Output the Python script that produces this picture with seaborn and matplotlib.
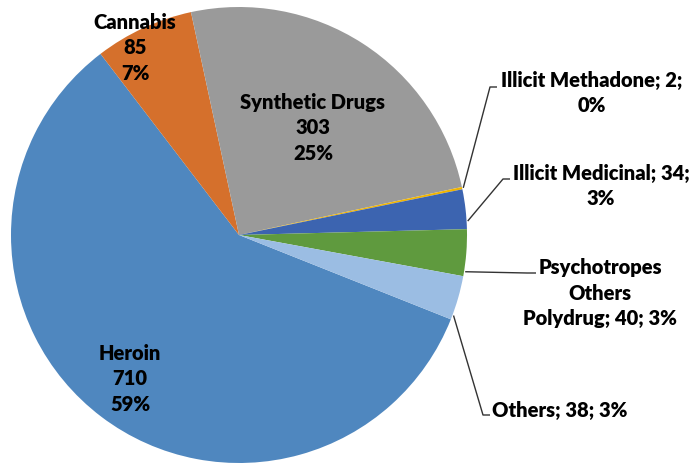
import numpy as np
import matplotlib
matplotlib.use("Agg")
import matplotlib.pyplot as plt
import seaborn as sns

# Drug categories and counts
categories = ["Heroin", "Cannabis", "Synthetic Drugs", "Illicit Methadone",
              "Illicit Medicinal", "Psychotropes\nOthers\nPolydrug", "Others"]
counts = [710, 85, 303, 2, 34, 40, 38]
colors = ["#4f87bf", "#d5702c", "#9a9a9a", "#f0b400",
          "#3c64b0", "#5f9a3e", "#9bbde3"]

sns.set_theme(style="white")
plt.rcParams["font.family"] = ["Lato", "DejaVu Sans"]

W, H, DPI = 692, 464, 100
fig = plt.figure(figsize=(W / DPI, H / DPI), dpi=DPI)
ax = fig.add_axes([0, 0, 1, 1])

# pie centre and radius in pixels
cx, cy, R = 239, 236, 228

total = sum(counts)
start = -21.7
wedges, _ = ax.pie(counts, colors=colors, startangle=start, counterclock=False,
                   radius=1.0, center=(0, 0), frame=True,
                   wedgeprops=dict(linewidth=0))
ax.set_xlim(-cx / R, (W - cx) / R)
ax.set_ylim(-(H - cy) / R, cy / R)
ax.set_aspect("auto")
ax.axis("off")


def px(x, y):
    return (x - cx) / R, (cy - y) / R


def pct(v):
    return f"{round(100 * v / total)}%"


fs = 14.5
txt = dict(fontsize=fs, fontweight="heavy", color="black",
           ha="center", va="center", linespacing=1.4)

# labels inside the large slices
inside = {0: (130, 379), 1: (135, 48), 2: (313, 128)}
for i, (x, y) in inside.items():
    ax.text(*px(x, y), f"{categories[i]}\n{counts[i]}\n{pct(counts[i])}", **txt)

# outside labels with leader lines
outside = {
    3: dict(text=f"{categories[3]}; {counts[3]};\n{pct(counts[3])}",
            pos=(592, 93), elbow=(490, 88), end=(497, 88), frac=0.5),
    4: dict(text=f"{categories[4]}; {counts[4]};\n{pct(counts[4])}",
            pos=(601, 186), elbow=(503, 180), end=(510, 180), frac=0.2),
    5: dict(text=f"{categories[5]}; {counts[5]}; {pct(counts[5])}",
            pos=(600, 293), elbow=(527, 274), end=(536, 274), frac=0.1),
    6: dict(text=f"{categories[6]}; {counts[6]}; {pct(counts[6])}",
            pos=(560, 410), elbow=(483, 416), end=(490, 416), frac=0.1),
}
for i, o in outside.items():
    w = wedges[i]
    ang = np.deg2rad(w.theta1 + o["frac"] * (w.theta2 - w.theta1))
    sx, sy = np.cos(ang) * 1.005, np.sin(ang) * 1.005
    ex, ey = px(*o["elbow"])
    fx, fy = px(*o["end"])
    ax.plot([sx, ex, fx], [sy, ey, fy], color="#333333", lw=1.0,
            solid_capstyle="butt")
    ax.text(*px(*o["pos"]), o["text"], **txt)

fig.savefig("out.png", dpi=DPI, facecolor="white")
